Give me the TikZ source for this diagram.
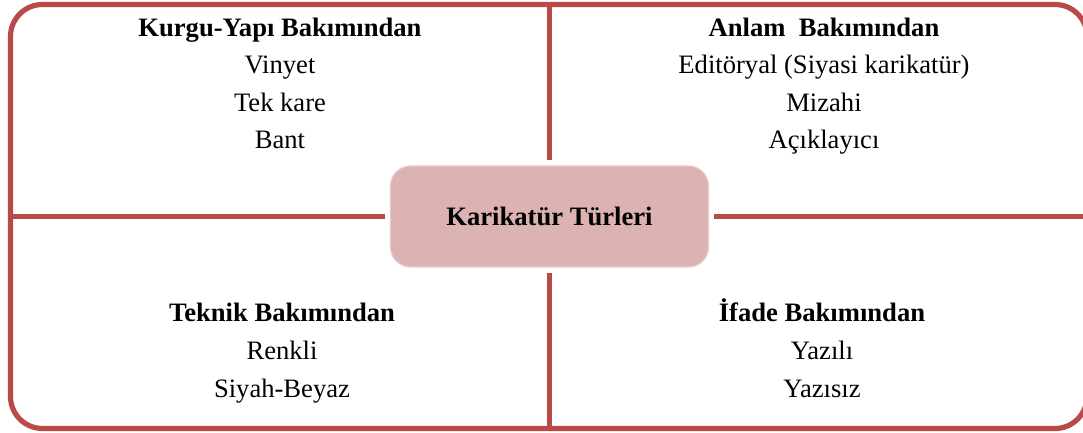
\documentclass[tikz,border=0pt]{standalone}
\usepackage{fontspec}
\setmainfont{Liberation Serif}
\usepackage{tikz}
\usetikzlibrary{positioning}
\definecolor{kred}{HTML}{B84B48}
\definecolor{kfill}{HTML}{DCB2B2}
\definecolor{kedge}{HTML}{EBCACA}
\begin{document}
\begin{tikzpicture}[x=0.5pt,y=-0.5pt,every node/.style={font=\fontsize{13.3}{18.8}\selectfont,align=center},frame/.style={draw=kred,line width=2.6pt,rounded corners=16pt},divider/.style={draw=kred,line width=2.8pt},center box/.style={rectangle,rounded corners=10pt,fill=kfill,draw=kedge,line width=0.6pt,minimum width=159pt,minimum height=50.5pt,inner sep=0pt,outer sep=2.8pt},group/.style={anchor=base}]
        \useasboundingbox (0,0) rectangle (1083,433);
        \draw[frame] (10.5,4.5) rectangle (1087,428.5);
        \coordinate (top) at (549.5,4.5);
        \coordinate (bottom) at (549.5,428.5);
        \coordinate (left) at (10.5,216.5);
        \coordinate (right) at (1087,216.5);
        \node[center box] (K) at (549.5,216.5) {\textbf{Karikatür Türleri}};
        \draw[divider] (top) -- (K);
        \draw[divider] (K) -- (bottom);
        \draw[divider] (left) -- (K);
        \draw[divider] (K) -- (right);
        % four groups (base = last line)
        \node[group] (kurgu) at (280,149) {\textbf{Kurgu-Yapı Bakımından}\\Vinyet\\Tek kare\\Bant};
        \node[group] (anlam) at (824,149) {\textbf{Anlam\ \ Bakımından}\\Editöryal (Siyasi karikatür)\\Mizahi\\Açıklayıcı};
        \node[group] (teknik) at (282,397) {\textbf{Teknik Bakımından}\\Renkli\\Siyah-Beyaz};
        \node[group] (ifade) at (822,397) {\textbf{İfade Bakımından}\\Yazılı\\Yazısız};
\end{tikzpicture}
\end{document}
